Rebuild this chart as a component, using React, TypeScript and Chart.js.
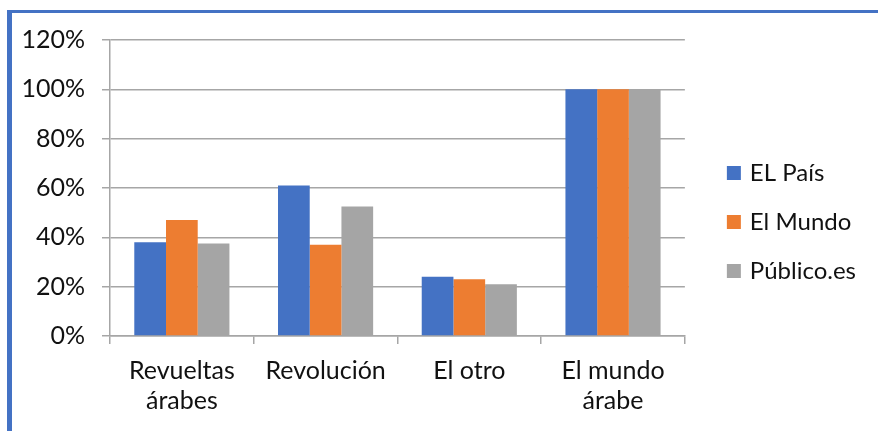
import React, { useEffect, useRef } from "react";
import { Chart, registerables } from "chart.js";

Chart.register(...registerables);

const categories: string[][] = [["Revueltas", "árabes"], ["Revolución"], ["El otro"], ["El mundo", "árabe"]];
const seriesNames = ["EL País", "El Mundo", "Público.es"];
const elPais = [38, 61, 24, 100];
const elMundo = [47, 37, 23, 100];
const publico = [37.5, 52.5, 21, 100];
const yMin = 0;
const yMax = 120;
const yStep = 20;

const COLORS = ["#4472C4", "#ED7D31", "#A5A5A5"];
const GRID = "#A6A6A6";
const FONT = { family: "Lato", size: 25 };
const LEGEND_FONT = { family: "Lato", size: 24 };
const TEXT = "#111111";

export default function App() {
  const ref = useRef<HTMLCanvasElement | null>(null);

  useEffect(() => {
    let chart: Chart | null = null;
    let cancelled = false;
    const make = () => {
      if (cancelled || !ref.current) return;
      chart = new Chart(ref.current, {
        type: "bar",
        data: {
          labels: categories,
          datasets: [elPais, elMundo, publico].map((d, i) => ({
            label: seriesNames[i],
            data: d,
            backgroundColor: COLORS[i],
            borderWidth: 0,
            categoryPercentage: 0.662,
            barPercentage: 1,
          })),
        },
        options: {
          animation: false,
          responsive: true,
          maintainAspectRatio: false,
          layout: { padding: { top: 0, left: 0, right: 12, bottom: 0 } },
          plugins: {
            tooltip: { enabled: false },
            legend: {
              position: "right",
              maxWidth: 400,
              labels: {
                usePointStyle: true,
                pointStyle: "rect",
                boxWidth: 8,
                boxHeight: 14,
                padding: 25,
                font: LEGEND_FONT,
                color: TEXT,
              },
            },
          },
          scales: {
            x: {
              grid: {
                display: true,
                drawOnChartArea: false,
                drawTicks: true,
                tickLength: 8,
                color: GRID,
                lineWidth: 1.5,
                offset: true,
              },
              border: { display: true, color: GRID, width: 1.5 },
              ticks: { font: FONT, color: TEXT, padding: 12, maxRotation: 0 },
              afterFit: (s: any) => {
                s.height = 95;
              },
            },
            y: {
              min: yMin,
              max: yMax,
              ticks: {
                stepSize: yStep,
                font: { ...FONT, lineHeight: 0.8 },
                color: TEXT,
                padding: 17,
                callback: (v: any) => v + "%",
              },
              grid: { color: GRID, lineWidth: 1.5, tickLength: 8 },
              border: { display: true, color: GRID, width: 1.5 },
              afterFit: (s: any) => {
                s.width = 98;
              },
            },
            gapRight: {
              type: "linear",
              position: "right",
              display: true,
              grid: { display: false },
              ticks: { display: false },
              border: { display: false },
              afterFit: (s: any) => {
                s.width = 20;
              },
            },
            gapTop: {
              type: "category",
              position: "top",
              display: true,
              grid: { display: false },
              ticks: { display: false },
              border: { display: false },
              afterFit: (s: any) => {
                s.height = 27;
              },
            },
          },
        } as any,
      });
    };
    const fonts = (document as any).fonts;
    if (fonts && fonts.load) {
      Promise.all([fonts.load("25px Lato"), fonts.load("24px Lato")]).then(make, make);
    } else {
      make();
    }
    return () => {
      cancelled = true;
      if (chart) chart.destroy();
    };
  }, []);

  return (
    <div
      style={{
        position: "absolute",
        left: 7,
        top: 10,
        width: 871,
        height: 421,
        boxSizing: "border-box",
        borderTop: "3px solid #4472C4",
        borderLeft: "5px solid #4472C4",
        background: "#fff",
      }}
    >
      <div style={{ position: "relative", width: 866, height: 418 }}>
        <canvas ref={ref} />
      </div>
    </div>
  );
}
